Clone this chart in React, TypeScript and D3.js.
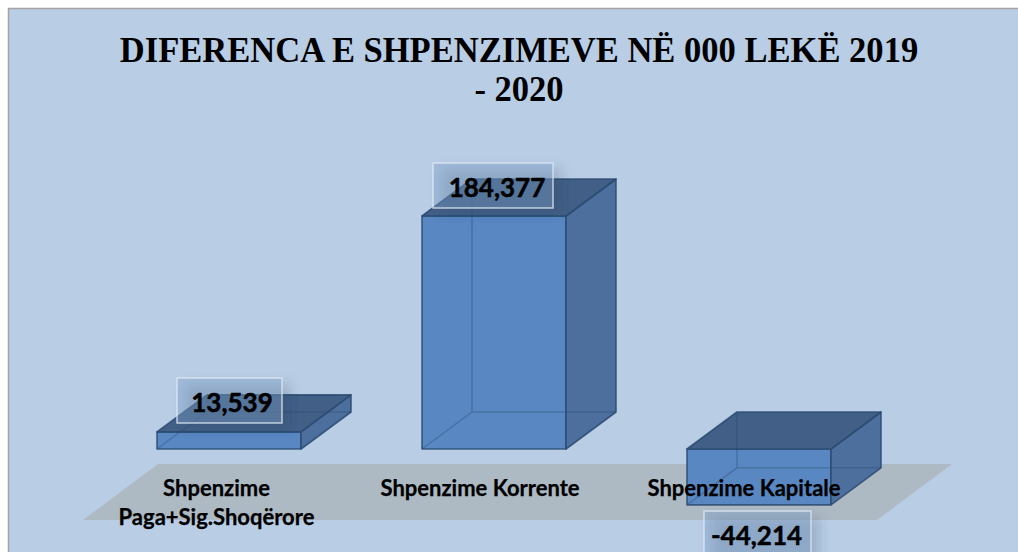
import React, { useEffect, useRef } from "react";
import * as d3 from "d3";

const categories = ["Shpenzime Paga+Sig.Shoqërore", "Shpenzime Korrente", "Shpenzime Kapitale"];
const values = [13539, 184377, -44214];
const titleLines = ["DIFERENCA E SHPENZIMEVE NË 000 LEKË 2019", "- 2020"];
const categoryLines = [["Shpenzime", "Paga+Sig.Shoqërore"], ["Shpenzime Korrente"], ["Shpenzime Kapitale"]];

export default function App() {
  const ref = useRef<SVGSVGElement>(null);

  useEffect(() => {
    const svg = d3.select(ref.current);
    svg.selectAll("*").remove();

    const width = 1018;
    const height = 552;
    // depth of the 3d boxes
    const dx = 50;
    const dy = 37;

    const x = d3.scaleBand().domain(categories).range([96.5, 891.5]).paddingInner(0.4566).paddingOuter(0.2283);
    const y = d3.scaleLinear().domain([0, 184377]).range([449, 216]);

    const defs = svg.append("defs");
    const blur = defs.append("filter").attr("id", "labelShadow").attr("x", "-30%").attr("y", "-30%").attr("width", "160%").attr("height", "160%");
    blur.append("feGaussianBlur").attr("stdDeviation", 6);

    svg.append("rect").attr("x", 8).attr("y", 8).attr("width", width - 8).attr("height", height - 8).attr("fill", "#b9cde5");
    svg.append("path").attr("d", `M${width},8.5H8.5V${height}`).attr("fill", "none").attr("stroke", "#a3a3a3").attr("stroke-width", 1.5);

    // floor
    const floor = d3.line()([[83, 520], [158, 464], [952, 464], [877, 520]]) + "Z";
    svg.append("path").attr("d", floor).attr("fill", "#adb9c3");

    const bars = svg.append("g");
    categories.forEach((c, i) => {
      const x0 = x(c)!;
      const x1 = x0 + x.bandwidth();
      const top = Math.min(y(values[i]), y(0));
      const bottom = Math.max(y(values[i]), y(0));
      const g = bars.append("g");
      const face = (pts: [number, number][], fill: string) =>
        g.append("path").attr("d", d3.line()(pts) + "Z")
          .attr("fill", fill)
          .attr("stroke", "#2a4a70").attr("stroke-opacity", 0.85).attr("stroke-width", 1.6).attr("stroke-linejoin", "round");
      face([[x0, top], [x1, top], [x1, bottom], [x0, bottom]], "#5887c2");
      face([[x1, top], [x1 + dx, top - dy], [x1 + dx, bottom - dy], [x1, bottom]], "#4c6f9d");
      face([[x0, top], [x0 + dx, top - dy], [x1 + dx, top - dy], [x1, top]], "#425f87");
      // hidden edges showing through the front
      const hidden = d3.line()([[x0, bottom], [x0 + dx, bottom - dy], [x1 + dx, bottom - dy]]) +
        d3.line()([[x0 + dx, bottom - dy], [x0 + dx, top - dy]]);
      g.append("path").attr("d", hidden).attr("fill", "none").attr("stroke", "#2a4a70").attr("stroke-opacity", 0.35).attr("stroke-width", 1.5);
    });

    // category labels
    const labelX = [216.5, 480, 744];
    categories.forEach((c, i) => {
      const t = svg.append("text").attr("x", labelX[i]).attr("y", 496).attr("text-anchor", "middle")
        .attr("font-family", "Lato").attr("font-weight", 700).attr("font-size", 22).attr("fill", "#000")
        .attr("stroke", "#000").attr("stroke-width", 0.25);
      categoryLines[i].forEach((line, k) => {
        t.append("tspan").attr("x", labelX[i]).attr("dy", k === 0 ? 0 : 29).text(line);
      });
    });

    // data labels
    const fmt = d3.formatLocale({ decimal: ".", thousands: ",", grouping: [3], currency: ["", ""], minus: "-" }).format(",");
    const boxW = [105, 120, 107];
    const boxH = 45;
    const boxOffset = [0.5, -1, -1.5];
    const textOffset = [2.5, 4, -1];
    const boxTop = [378, 163, 511];
    categories.forEach((c, i) => {
      const cx = x(c)! + x.bandwidth() / 2 + boxOffset[i];
      const lx = cx - boxW[i] / 2;
      svg.append("rect").attr("x", lx + 8).attr("y", boxTop[i] + 6).attr("width", boxW[i]).attr("height", boxH)
        .attr("fill", "#2a3f5c").attr("fill-opacity", 0.22).attr("filter", "url(#labelShadow)");
      svg.append("rect").attr("x", lx).attr("y", boxTop[i]).attr("width", boxW[i]).attr("height", boxH)
        .attr("fill", "#7f9fc8").attr("fill-opacity", 0.4).attr("stroke", "#dfe8f3").attr("stroke-opacity", 0.8).attr("stroke-width", 1.5);
      svg.append("text").attr("x", cx + textOffset[i]).attr("y", boxTop[i] + 34).attr("text-anchor", "middle")
        .attr("font-family", "Lato").attr("font-weight", 700).attr("font-size", 26).attr("fill", "#000")
        .attr("stroke", "#000").attr("stroke-width", 0.5)
        .text(fmt(values[i]));
    });

    // title, squeezed a little sideways like the original
    const title = svg.append("text").attr("text-anchor", "middle").attr("transform", "translate(519,0) scale(0.96,1)")
      .attr("font-family", "Liberation Serif").attr("font-weight", 700).attr("font-size", 36).attr("fill", "#000");
    titleLines.forEach((line, k) => {
      title.append("tspan").attr("x", 0).attr("y", 62 + k * 39).text(line);
    });
  }, []);

  return <svg ref={ref} width={1018} height={552} style={{ position: "absolute", left: 0, top: 0 }} />;
}
